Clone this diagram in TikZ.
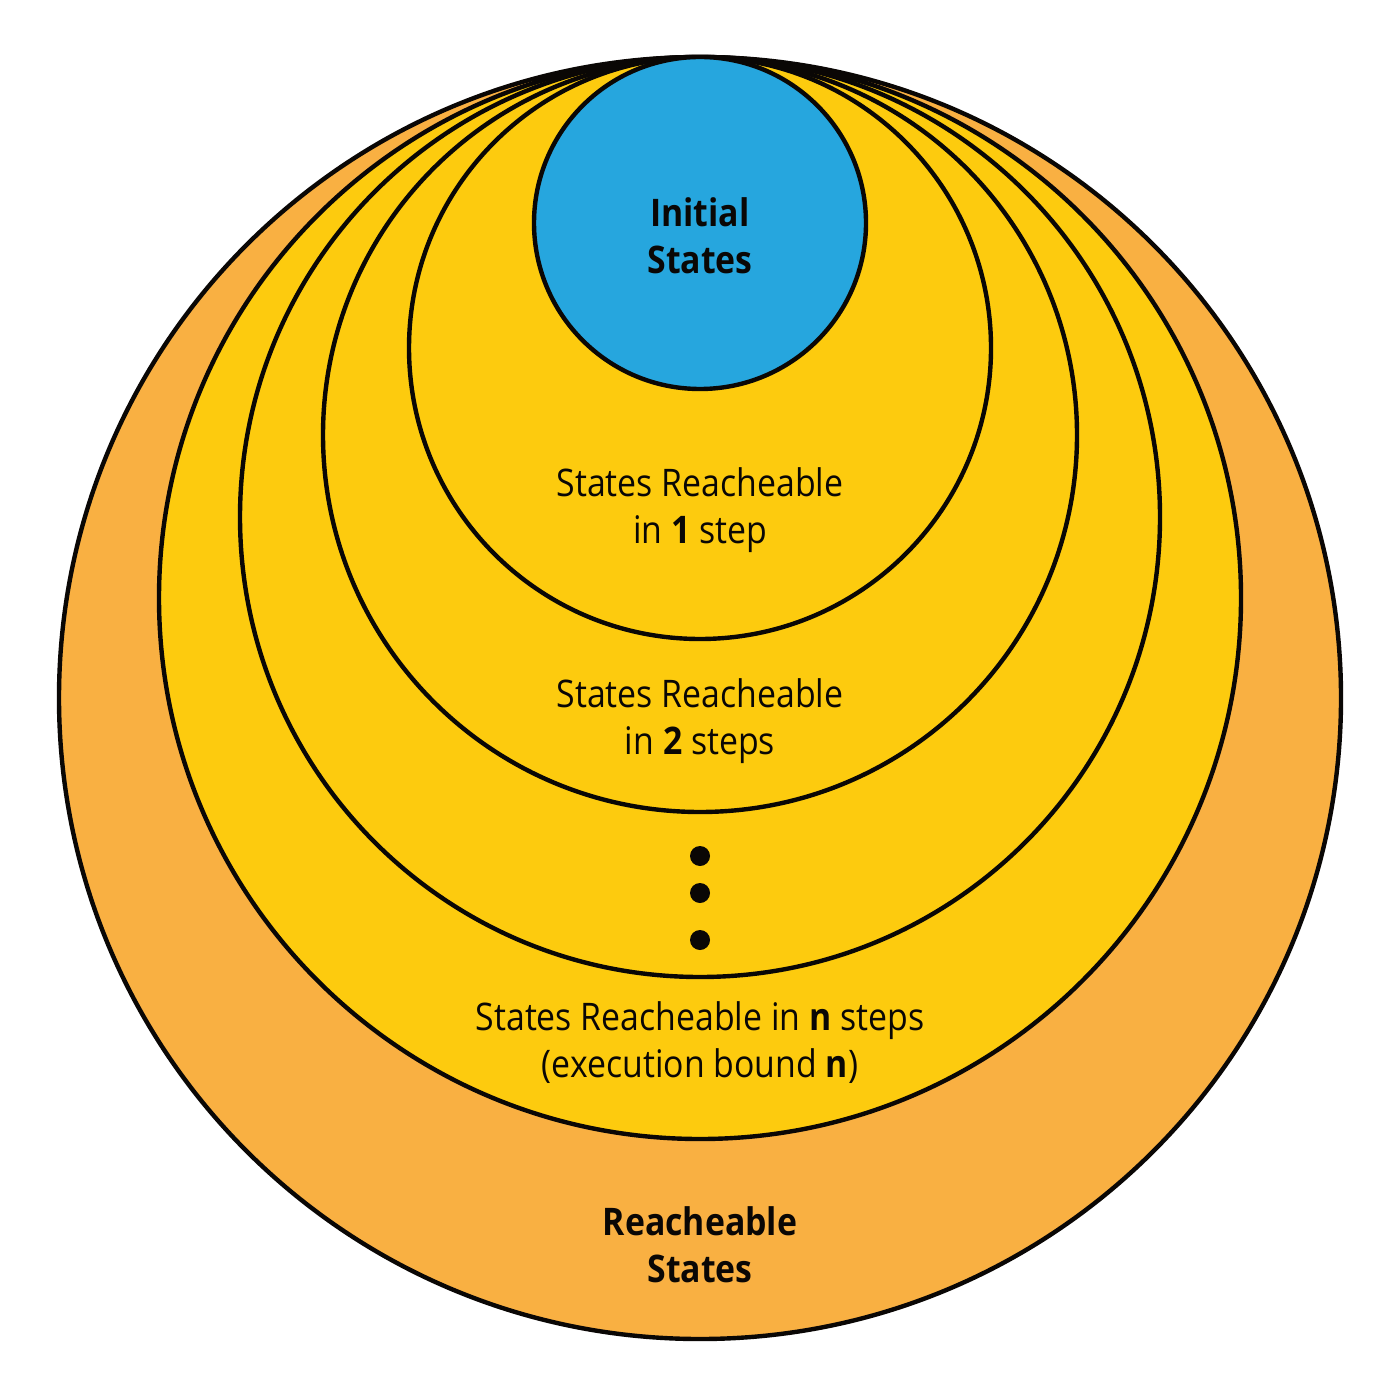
\documentclass[tikz,border=0pt]{standalone}
\usepackage{fontspec}
\setmainfont{Open Sans}[FakeStretch=0.89]
\definecolor{outerorange}{HTML}{F9B042}
\definecolor{ringyellow}{HTML}{FDCB0E}
\definecolor{initblue}{HTML}{26A6DE}
\definecolor{inkblack}{HTML}{0A0705}
\tikzset{
  ring/.style={draw=inkblack, line width=2.2pt},
  lbl/.style={align=center, font=\fontsize{19pt}{23.5pt}\selectfont, text=inkblack, inner sep=0pt},
  boldlbl/.style={lbl, font=\fontsize{19pt}{23.5pt}\selectfont\bfseries},
  dotmark/.style={circle, fill=inkblack, minimum size=10pt, inner sep=0pt}
}
\begin{document}
\begin{tikzpicture}[x=0.5pt,y=-0.5pt]
\useasboundingbox (0,0) rectangle (1400,1400);
\fill[white] (0,0) rectangle (1400,1400);
\path[ring, fill=outerorange] (700,698) circle[radius=641];
\path[ring, fill=ringyellow] (700,598) circle[radius=541];
\path[ring, fill=ringyellow] (700,517) circle[radius=460];
\path[ring, fill=ringyellow] (700,435) circle[radius=377];
\path[ring, fill=ringyellow] (700,348) circle[radius=291];
\path[ring, fill=initblue] (700,223) circle[radius=166];
\node[boldlbl] (init) at (700,236) {Initial\\States};
\node[lbl] (one) at (700,510) {States Reacheable\\in \textbf{1} step};
\node[lbl] (two) at (700,721) {States Reacheable\\in \textbf{2} steps};
\node[dotmark] (d1) at (700,856) {};
\node[dotmark] (d2) at (700,893) {};
\node[dotmark] (d3) at (700,940) {};
\node[lbl] (nsteps) at (700,1043) {States Reacheable in \textbf{n} steps\\(execution bound \textbf{n})};
\node[boldlbl] (reach) at (700,1245) {Reacheable\\States};
\end{tikzpicture}
\end{document}
